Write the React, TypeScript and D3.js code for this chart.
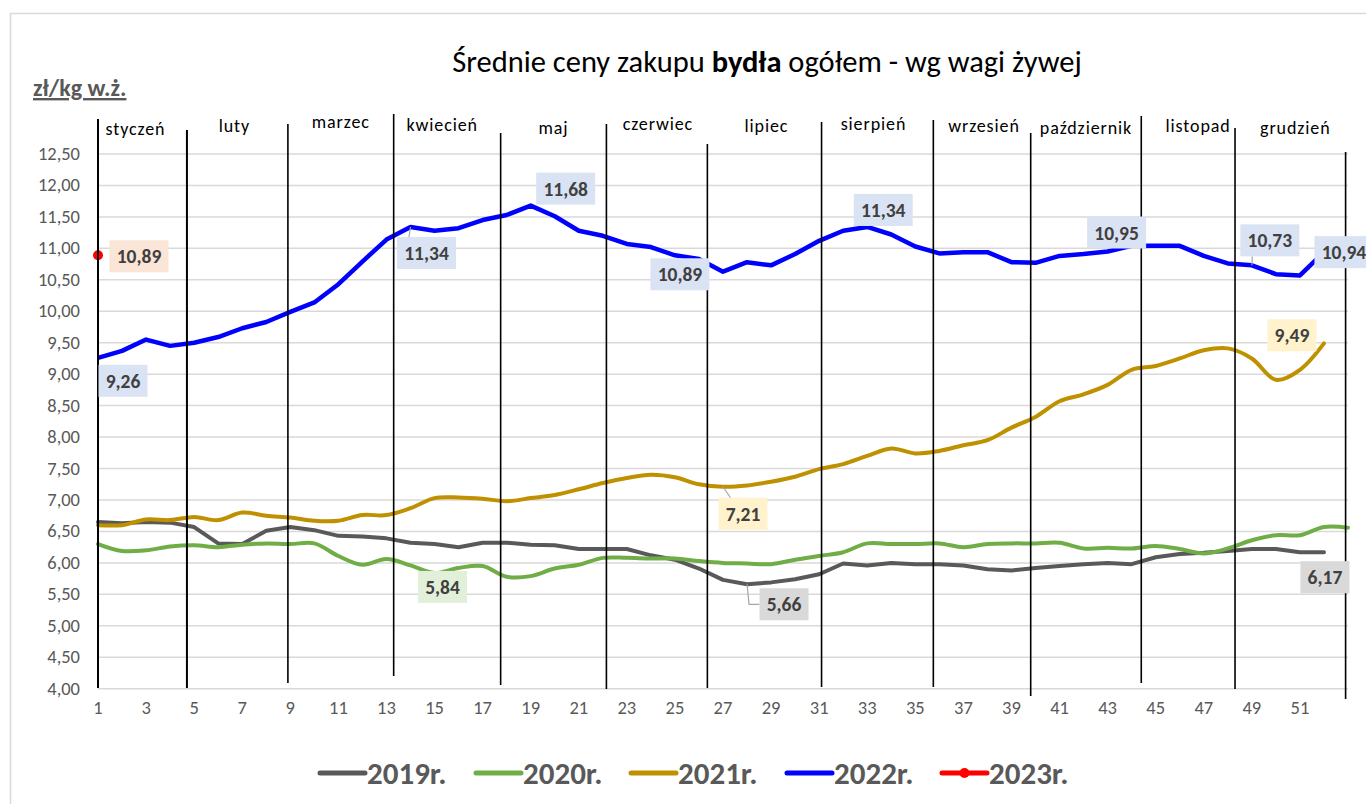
import React from 'react';
import * as d3 from 'd3';

// ---------- data ----------
const weeks: number[] = d3.range(1, 54);
const xTickLabels: number[] = [1, 3, 5, 7, 9, 11, 13, 15, 17, 19, 21, 23, 25, 27, 29, 31, 33, 35, 37, 39, 41, 43, 45, 47, 49, 51];
const yTicks: number[] = [4, 4.5, 5, 5.5, 6, 6.5, 7, 7.5, 8, 8.5, 9, 9.5, 10, 10.5, 11, 11.5, 12, 12.5];

const s2019: number[] = [6.65, 6.63, 6.65, 6.64, 6.57, 6.31, 6.30, 6.51, 6.57, 6.52, 6.43, 6.42, 6.39, 6.32, 6.30, 6.25, 6.32, 6.32, 6.29, 6.28,
  6.22, 6.22, 6.22, 6.12, 6.05, 5.91, 5.73, 5.66, 5.69, 5.74, 5.82, 5.99, 5.96, 6.00, 5.98, 5.98, 5.96, 5.90, 5.88, 5.92,
  5.95, 5.98, 6.00, 5.98, 6.09, 6.14, 6.16, 6.19, 6.22, 6.22, 6.17, 6.17];
const s2020: number[] = [6.30, 6.19, 6.20, 6.26, 6.28, 6.25, 6.29, 6.31, 6.30, 6.31, 6.11, 5.97, 6.06, 5.96, 5.84, 5.92, 5.95, 5.78, 5.79, 5.91,
  5.97, 6.08, 6.08, 6.07, 6.07, 6.03, 6.00, 5.99, 5.98, 6.05, 6.11, 6.17, 6.31, 6.30, 6.30, 6.31, 6.25, 6.30, 6.31, 6.31,
  6.32, 6.23, 6.24, 6.23, 6.27, 6.22, 6.15, 6.23, 6.36, 6.44, 6.44, 6.57, 6.56];
const s2021: number[] = [6.60, 6.60, 6.69, 6.68, 6.73, 6.68, 6.80, 6.75, 6.72, 6.67, 6.67, 6.76, 6.76, 6.87, 7.03, 7.04, 7.02, 6.98, 7.03, 7.08,
  7.17, 7.27, 7.35, 7.40, 7.36, 7.25, 7.21, 7.23, 7.29, 7.37, 7.49, 7.57, 7.70, 7.82, 7.74, 7.78, 7.87, 7.95, 8.15, 8.32,
  8.57, 8.68, 8.83, 9.07, 9.13, 9.25, 9.38, 9.41, 9.25, 8.91, 9.07, 9.49];
const s2022: number[] = [9.26, 9.37, 9.55, 9.45, 9.50, 9.59, 9.73, 9.83, 9.99, 10.14, 10.43, 10.79, 11.14, 11.34, 11.28, 11.32, 11.45, 11.53, 11.68, 11.51,
  11.28, 11.20, 11.07, 11.02, 10.89, 10.83, 10.63, 10.78, 10.73, 10.91, 11.12, 11.28, 11.34, 11.22, 11.03, 10.92, 10.94, 10.94, 10.78, 10.77,
  10.88, 10.91, 10.95, 11.04, 11.04, 11.04, 10.88, 10.76, 10.73, 10.59, 10.57, 10.94];
const s2023: number[] = [10.89];

const seriesNames: string[] = ['2019r.', '2020r.', '2021r.', '2022r.', '2023r.'];
const seriesColors: string[] = ['#595959', '#70ad47', '#bf9000', '#0000ff', '#ff0000'];

const monthNames: string[] = ['styczeń', 'luty', 'marzec', 'kwiecień', 'maj', 'czerwiec', 'lipiec', 'sierpień', 'wrzesień', 'październik', 'listopad', 'grudzień'];
// month separators, in week units
const monthBoundaries: number[] = [1, 4.7, 8.9, 13.3, 17.75, 22.15, 26.35, 31.1, 35.75, 39.8, 44.4, 48.3, 52.9];

// ---------- layout / style ----------
const boundaryTop = [119, 130, 124, 114, 133, 124, 144, 122, 120, 133, 116, 128, 152];
const boundaryBottom = [688, 688, 683, 676, 685, 689, 688, 687, 687, 696, 683, 689, 699];
const monthDx = [-7, -3, 0, -5, 0, 1, 2, -4, 2, 0, 10, 5];
const monthY = [135, 132, 128, 131, 134, 130, 132, 130, 132, 134, 132, 134];

type Ann = { s: number; w: number; dx: number; dy: number; fill: string; leader?: 'line' | 'elbow' };
const annotations: Ann[] = [
  { s: 4, w: 1, dx: 41, dy: 1, fill: '#fbe5d6' },
  { s: 3, w: 1, dx: 25, dy: 23, fill: '#dae3f3' },
  { s: 3, w: 14, dx: 16, dy: 26, fill: '#dae3f3', leader: 'line' },
  { s: 3, w: 19, dx: 35, dy: -17, fill: '#dae3f3' },
  { s: 3, w: 25, dx: 5, dy: 19, fill: '#dae3f3' },
  { s: 3, w: 33, dx: 16, dy: -17, fill: '#dae3f3' },
  { s: 3, w: 43, dx: 9, dy: -19, fill: '#dae3f3' },
  { s: 3, w: 49, dx: 18, dy: -25, fill: '#dae3f3', leader: 'line' },
  { s: 3, w: 52, dx: 20, dy: 0, fill: '#dae3f3' },
  { s: 2, w: 52, dx: -32, dy: -8, fill: '#fff2cc' },
  { s: 2, w: 27, dx: 20, dy: 27, fill: '#fff2cc', leader: 'line' },
  { s: 1, w: 15, dx: 8, dy: 14, fill: '#e2f0d9' },
  { s: 0, w: 28, dx: 37, dy: 20, fill: '#d9d9d9', leader: 'elbow' },
  { s: 0, w: 52, dx: 1, dy: 25, fill: '#d9d9d9' },
];

const FONT = "Carlito, Calibri, Lato, 'Open Sans', sans-serif";

export default function App() {
  const W = 1366, H = 804;
  const x = d3.scalePoint<number>().domain(weeks).range([98, 1348]);
  const xl = d3.scaleLinear().domain([1, 53]).range([98, 1348]);
  const y = d3.scaleLinear().domain([4, 12.5]).range([688.7, 154]);
  const all = [s2019, s2020, s2021, s2022, s2023];
  const fmt = (v: number) => v.toFixed(2).replace('.', ',');

  const lineLinear = d3.line<number>().x((_, i) => x(i + 1)!).y(d => y(d));
  const lineSmooth = d3.line<number>().x((_, i) => x(i + 1)!).y(d => y(d)).curve(d3.curveCatmullRom.alpha(0.5));

  const legendX = [320, 476, 631, 787, 942];

  return (
    <svg width={W} height={H} style={{ display: 'block', position: 'absolute', left: 0, top: 0, background: '#fff' }} fontFamily={FONT}>
      <rect x={10.5} y={13.5} width={1400} height={900} fill="#fff" stroke="#d9d9d9" strokeWidth={1.5} />
      {/* title */}
      <text x={767} y={72} textAnchor="middle" fontSize={30.5} fill="#000">
        Średnie ceny zakupu <tspan fontWeight="bold">bydła</tspan> ogółem - wg wagi żywej
      </text>
      <text x={33} y={96} fontSize={24} fontWeight="bold" fill="#595959" textDecoration="underline">zł/kg w.ż.</text>

      {/* gridlines */}
      {yTicks.map(t => (
        <line key={t} x1={98} x2={1348} y1={y(t)} y2={y(t)} stroke="#d9d9d9" strokeWidth={1.5} />
      ))}
      {yTicks.map(t => (
        <text key={'yl' + t} x={80} y={y(t) + 6} textAnchor="end" fontSize={18.5} fill="#595959">{fmt(t)}</text>
      ))}
      {xTickLabels.map(t => (
        <text key={'xl' + t} x={x(t)} y={714} textAnchor="middle" fontSize={18.5} fill="#595959">{t}</text>
      ))}

      {/* series */}
      <path d={lineLinear(s2019)!} fill="none" stroke={seriesColors[0]} strokeWidth={4} strokeLinejoin="round" strokeLinecap="round" />
      <path d={lineSmooth(s2020)!} fill="none" stroke={seriesColors[1]} strokeWidth={4} strokeLinecap="round" />
      <path d={lineSmooth(s2021)!} fill="none" stroke={seriesColors[2]} strokeWidth={4} strokeLinecap="round" />
      <path d={lineLinear(s2022)!} fill="none" stroke={seriesColors[3]} strokeWidth={4.5} strokeLinejoin="round" />
      {s2023.map((v, i) => (
        <circle key={'p' + i} cx={x(i + 1)} cy={y(v)} r={5} fill={seriesColors[4]} />
      ))}

      {/* month separators */}
      {monthBoundaries.map((b, i) => (
        <line key={'mb' + i} x1={xl(b)} x2={xl(b)} y1={boundaryTop[i]} y2={boundaryBottom[i]} stroke="#000" strokeWidth={i < 2 ? 2 : 1.6} />
      ))}
      {monthNames.map((m, i) => (
        <text key={m} x={(xl(monthBoundaries[i]) + xl(monthBoundaries[i + 1])) / 2 + monthDx[i]} y={monthY[i]} textAnchor="middle" fontSize={18} letterSpacing={0.9} fill="#000">{m}</text>
      ))}

      {/* data labels */}
      {annotations.map((a, k) => {
        const v = all[a.s][a.w - 1];
        const px = x(a.w)!, py = y(v);
        const txt = fmt(v);
        const bw = txt.length === 4 ? 49 : 59;
        const bh = 32;
        const cx = px + a.dx, cy = py + a.dy;
        return (
          <g key={'a' + k}>
            {a.leader === 'line' && (
              <line x1={px} y1={py} x2={cx + (a.dx > 0 ? -bw / 2 + 12 : 0)} y2={cy + (a.dy > 0 ? -bh / 2 : bh / 2)} stroke="#a6a6a6" strokeWidth={1.2} />
            )}
            {a.leader === 'elbow' && (
              <polyline points={`${px},${py} ${px + 2},${cy} ${cx - bw / 2},${cy}`} fill="none" stroke="#a6a6a6" strokeWidth={1.2} />
            )}
            <rect x={cx - bw / 2} y={cy - bh / 2} width={bw} height={bh} fill={a.fill} />
            <text x={cx} y={cy + 7} textAnchor="middle" fontSize={19.5} fontWeight="bold" fill="#404040">{txt}</text>
          </g>
        );
      })}

      {/* legend */}
      {seriesNames.map((n, i) => (
        <g key={n}>
          <line x1={legendX[i]} x2={legendX[i] + 45} y1={773} y2={773} stroke={seriesColors[i]} strokeWidth={5} strokeLinecap="round" />
          {i === 4 && <circle cx={legendX[i] + 22.5} cy={773} r={5} fill={seriesColors[i]} />}
          <text x={legendX[i] + 47} y={784} fontSize={31} fontWeight="bold" fill="#595959">{n}</text>
        </g>
      ))}
    </svg>
  );
}
